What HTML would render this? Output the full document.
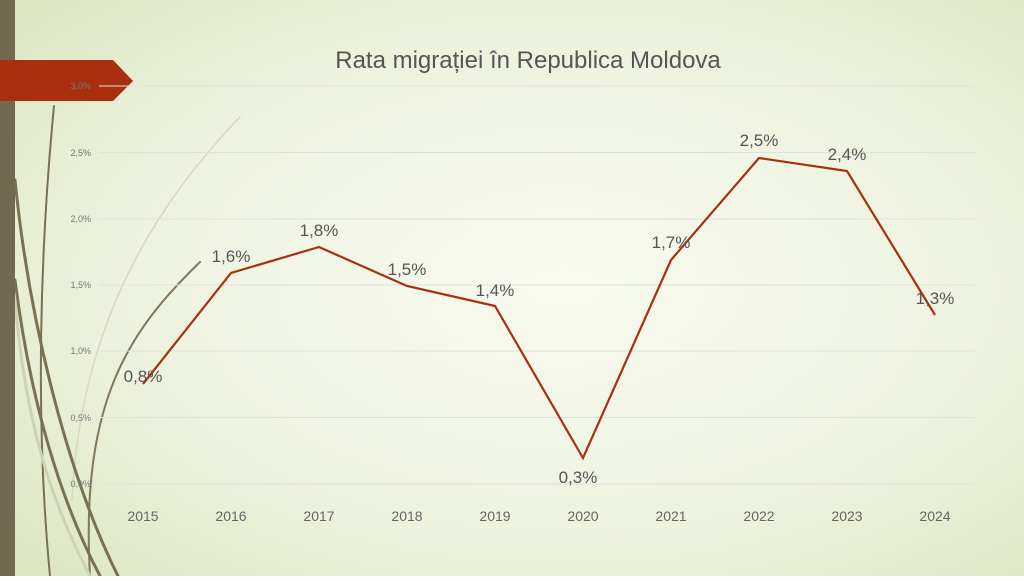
<!DOCTYPE html>
<html><head><meta charset="utf-8"><style>
body{margin:0;width:1024px;height:576px;overflow:hidden;font-family:"Liberation Sans",sans-serif}
</style></head><body>
<svg width="1024" height="576" xmlns="http://www.w3.org/2000/svg">
<defs><radialGradient id="bg" cx="0.55" cy="0.5" r="0.7">
<stop offset="0" stop-color="#f8faf0"/><stop offset="0.6" stop-color="#eef3de"/><stop offset="1" stop-color="#dde7c4"/></radialGradient></defs>
<rect width="1024" height="576" fill="url(#bg)"/>
<g fill="none" stroke-linecap="round">
<path d="M240 117 C150 210 80 330 72 500" stroke="#d6d8c0" stroke-width="1.5"/>
<path d="M200 262 C130 330 80 400 90 576" stroke="#80785c" stroke-width="2"/>
<path d="M54 106 C40 250 35 420 50 576" stroke="#7a7154" stroke-width="2"/>
<path d="M15 180 C30 330 70 480 118 576" stroke="#7a7154" stroke-width="3"/>
<path d="M15 280 C30 400 60 500 100 576" stroke="#7a7154" stroke-width="3"/>
<path d="M15 300 C25 420 50 500 90 576" stroke="#cfd3b5" stroke-width="3"/>
</g>
<rect x="0" y="0" width="15" height="576" fill="#726a50"/>
<polygon points="0,60 113,60 133,81 113,101 0,101" fill="#a8300f"/>
<text x="528" y="68" text-anchor="middle" font-size="24" fill="#555">Rata migrației în Republica Moldova</text>
<g stroke="#e0e2dc" stroke-width="1">
<line x1="99" x2="975" y1="86" y2="86"/><line x1="99" x2="975" y1="152.5" y2="152.5"/>
<line x1="99" x2="975" y1="219" y2="219"/><line x1="99" x2="975" y1="285" y2="285"/>
<line x1="99" x2="975" y1="351" y2="351"/><line x1="99" x2="975" y1="417.5" y2="417.5"/>
<line x1="99" x2="975" y1="484" y2="484"/></g>
<g font-size="9" fill="#777" text-anchor="end">
<text x="91" y="89">3,0%</text><text x="91" y="156">2,5%</text><text x="91" y="222">2,0%</text>
<text x="91" y="288">1,5%</text><text x="91" y="354">1,0%</text><text x="91" y="421">0,5%</text><text x="91" y="487">0,0%</text></g>
<g font-size="14" fill="#666" text-anchor="middle">
<text x="143" y="521">2015</text><text x="231" y="521">2016</text><text x="319" y="521">2017</text>
<text x="407" y="521">2018</text><text x="495" y="521">2019</text><text x="583" y="521">2020</text>
<text x="671" y="521">2021</text><text x="759" y="521">2022</text><text x="847" y="521">2023</text><text x="935" y="521">2024</text></g>
<polyline fill="none" stroke="#a8300f" stroke-width="2.2" points="143,384 231,273 319,247 407,286 495,306 583,458 671,260 759,158 847,171 935,315"/>
<g font-size="17" fill="#555" text-anchor="middle">
<text x="143" y="382">0,8%</text><text x="231" y="262">1,6%</text><text x="319" y="236">1,8%</text>
<text x="407" y="275">1,5%</text><text x="495" y="296">1,4%</text><text x="578" y="483">0,3%</text>
<text x="671" y="248">1,7%</text><text x="759" y="146">2,5%</text><text x="847" y="160">2,4%</text><text x="935" y="304">1,3%</text></g>
</svg>
</body></html>
